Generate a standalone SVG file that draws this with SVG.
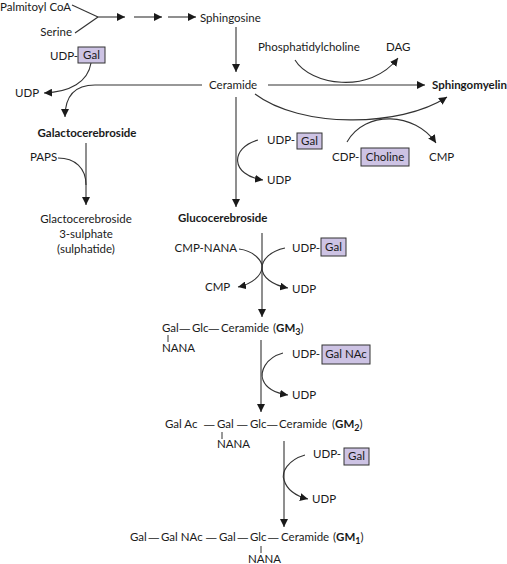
<svg xmlns="http://www.w3.org/2000/svg" width="507" height="564" viewBox="0 0 507 564">
<defs>
<marker id="ah" viewBox="0 0 10 10" refX="10" refY="5" markerWidth="8" markerHeight="8" markerUnits="userSpaceOnUse" orient="auto"><path d="M0,0 L10,5 L0,10 z" fill="#1a1a1a"/></marker>
<style>
text{font-family:Lato,"Open Sans","Liberation Sans",sans-serif;font-size:11.5px;fill:#1a1a1a}
.b{font-weight:bold}
.m{text-anchor:middle}
.e{text-anchor:end}
.d{font-family:"Liberation Sans",sans-serif;font-size:10.5px}
.box{fill:#cdc3e4;stroke:#333;stroke-width:1}
.c{fill:none;stroke:#333;stroke-width:1.1}
.a{marker-end:url(#ah)}
.bar{stroke:#333;stroke-width:1}
</style>
</defs>
<rect width="507" height="564" fill="#fff"/>
<g id="connectors">
<path class="c" d="M72 5 L98 17"/>
<path class="c" d="M75 33 L98 17"/>
<path class="c a" d="M98 17 H125"/>
<path class="c a" d="M134 17 H162"/>
<path class="c a" d="M168 17 H196"/>
<path class="c a" d="M236 27 V72"/>
<path class="c a" d="M202 85 H95 C75 85 65 95 65 117"/>
<path class="c a" d="M91 63 C88 82 70 92 44 93"/>
<path class="c" d="M58 158 C75 158 86 168 86 185"/>
<path class="c a" d="M86 143 V205"/>
<path class="c a" d="M236 97 V207"/>
<path class="c a" d="M258 140 C230 148 230 175 263 180"/>
<path class="c a" d="M295 60 C310 85 370 95 398 58"/>
<path class="c a" d="M268 85 H425"/>
<path class="c a" d="M255 94 C300 128 400 128 447 97"/>
<path class="c a" d="M347 142 C365 110 415 112 436 143"/>
<path class="c a" d="M262 233 V317"/>
<path class="c a" d="M239 249 C255 251 263 262 262 268 C261 276 252 284 238 287"/>
<path class="c a" d="M285 248 C270 251 262 260 262 268 C262 277 272 285 288 288"/>
<path class="c a" d="M261 340 V412"/>
<path class="c a" d="M283 353 C265 358 260 372 263 380 C266 388 275 393 288 395"/>
<path class="c a" d="M284 441 V527"/>
<path class="c a" d="M305 455 C288 460 281 472 284 480 C287 490 296 496 308 499"/>
</g>
<g id="palmitoyl"><text x="0" y="11">Palmitoyl CoA</text></g>
<g id="serine"><text class="e" x="72" y="36">Serine</text></g>
<g id="sphingosine"><text x="200" y="22">Sphingosine</text></g>
<g id="ceramide"><text x="209" y="89">Ceramide</text></g>
<g id="udp-gal-1"><text x="50" y="60">UDP-</text><rect class="box" x="78" y="47" width="27" height="16"/><text class="m" x="91.5" y="59">Gal</text></g>
<g id="udp-1"><text x="15" y="97">UDP</text></g>
<g id="galactocerebroside"><text class="b m" x="87" y="137">Galactocerebroside</text></g>
<g id="paps"><text x="30" y="161">PAPS</text></g>
<g id="sulphatide"><text class="m" x="86" y="223">Glactocerebroside</text><text class="m" x="86" y="238">3-sulphate</text><text class="m" x="86" y="253">(sulphatide)</text></g>
<g id="phosphatidylcholine"><text x="258" y="51">Phosphatidylcholine</text></g>
<g id="dag"><text x="386" y="51">DAG</text></g>
<g id="sphingomyelin"><text class="b" x="432" y="89">Sphingomyelin</text></g>
<g id="udp-gal-2"><text x="267" y="144">UDP-</text><rect class="box" x="297" y="133" width="25" height="16"/><text class="m" x="309.5" y="145">Gal</text></g>
<g id="udp-2"><text x="267" y="184">UDP</text></g>
<g id="cdp-choline"><text x="332" y="161">CDP-</text><rect class="box" x="361" y="148" width="48" height="18"/><text class="m" x="385" y="161">Choline</text></g>
<g id="cmp-1"><text x="429" y="161">CMP</text></g>
<g id="glucocerebroside"><text class="b" x="178" y="222" font-size="12">Glucocerebroside</text></g>
<g id="cmp-nana"><text class="e" x="237" y="252">CMP-NANA</text></g>
<g id="udp-gal-3"><text x="292" y="252">UDP-</text><rect class="box" x="321" y="238" width="25" height="18"/><text class="m" x="333.5" y="251">Gal</text></g>
<g id="cmp-2"><text x="205" y="291">CMP</text></g>
<g id="udp-3"><text x="292" y="293">UDP</text></g>
<g id="gm3"><text y="332"><tspan x="162">Gal</tspan><tspan class="d" x="179.5">—</tspan><tspan x="192">Glc</tspan><tspan class="d" x="208.5">—</tspan><tspan x="221">Ceramide</tspan><tspan x="273">(</tspan><tspan class="b">GM</tspan><tspan class="b" font-size="9" dy="3">3</tspan><tspan dy="-3">)</tspan></text><line class="bar" x1="168" y1="335" x2="168" y2="342"/><text x="162" y="352">NANA</text></g>
<g id="udp-galnac"><text x="292" y="358">UDP-</text><rect class="box" x="322" y="345" width="48" height="19"/><text class="m" x="346" y="358">Gal NAc</text></g>
<g id="udp-4"><text x="292" y="399">UDP</text></g>
<g id="gm2"><text y="428"><tspan x="165">Gal Ac</tspan><tspan class="d" x="204">—</tspan><tspan x="217">Gal</tspan><tspan class="d" x="237">—</tspan><tspan x="250">Glc</tspan><tspan class="d" x="267">—</tspan><tspan x="279">Ceramide</tspan><tspan x="332">(</tspan><tspan class="b">GM</tspan><tspan class="b" font-size="9" dy="3">2</tspan><tspan dy="-3">)</tspan></text><line class="bar" x1="222" y1="432" x2="222" y2="439"/><text x="217" y="448">NANA</text></g>
<g id="udp-gal-4"><text x="313" y="458">UDP-</text><rect class="box" x="344" y="448" width="25" height="17"/><text class="m" x="356.5" y="460">Gal</text></g>
<g id="udp-5"><text x="312" y="503">UDP</text></g>
<g id="gm1"><text y="541"><tspan x="130">Gal</tspan><tspan class="d" x="148.5">—</tspan><tspan x="161">Gal NAc</tspan><tspan class="d" x="206">—</tspan><tspan x="219">Gal</tspan><tspan class="d" x="237.5">—</tspan><tspan x="250">Glc</tspan><tspan class="d" x="268">—</tspan><tspan x="281">Ceramide</tspan><tspan x="333">(</tspan><tspan class="b">GM</tspan><tspan class="b" font-size="9" dy="3">1</tspan><tspan dy="-3">)</tspan></text><line class="bar" x1="261" y1="546" x2="261" y2="553"/><text x="248" y="563">NANA</text></g>
</svg>
